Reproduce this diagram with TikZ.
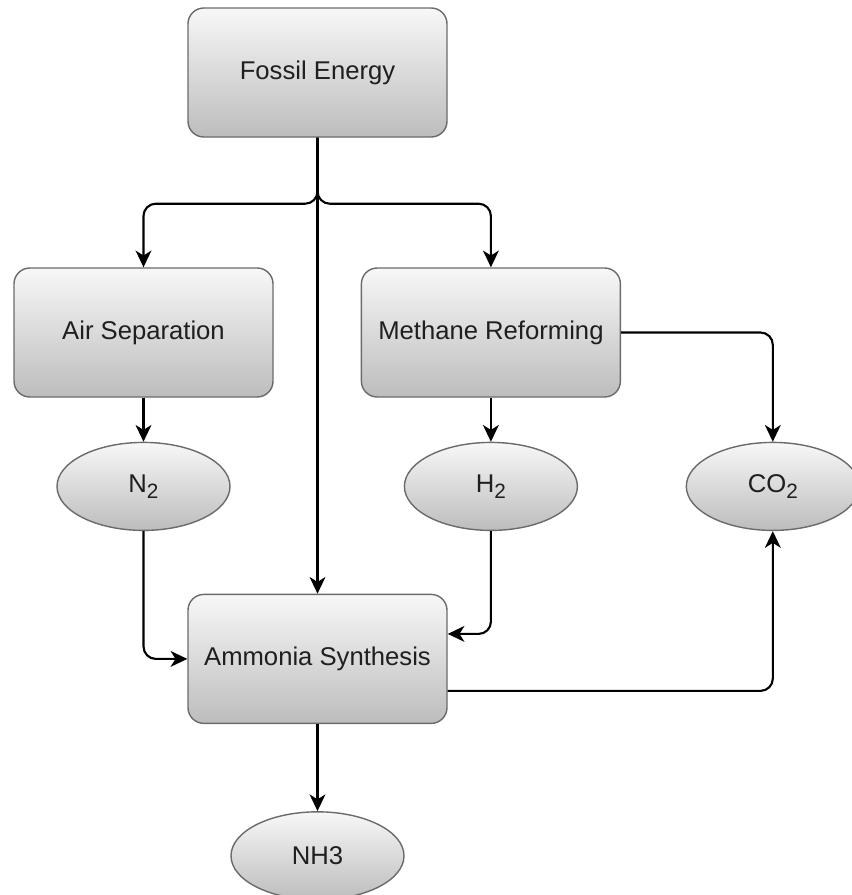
\documentclass[tikz,border=0pt]{standalone}
\usepackage{fontspec}
\setmainfont{Liberation Sans}
\usetikzlibrary{positioning, arrows.meta, shapes.geometric, calc}

% lowered index as used for the gas formulas
\newcommand{\gasidx}[1]{\raisebox{-3.2pt}{\fontsize{11.8}{12}\selectfont #1}}

\begin{document}
\begin{tikzpicture}[->, >={Stealth[length=9.5pt, width=9pt, inset=2.8pt]}, line width=1.2pt, rounded corners=7pt,
    stage/.style={rectangle, rounded corners=9pt, draw=black!58, line width=0.8pt,
      top color=black!3, bottom color=black!26, text=black!88,
      minimum width=5.18cm, minimum height=2.58cm, font=\fontsize{14.6}{17}\selectfont},
    product/.style={ellipse, draw=black!58, line width=0.8pt, inner sep=0pt,
      top color=black!3, bottom color=black!26, text=black!88,
      minimum width=3.46cm, minimum height=1.76cm, font=\fontsize{14.6}{17}\selectfont}]
      \useasboundingbox (0,0) rectangle (17.02,-17.9);

      \node[stage] (fossil) at (6.35,-1.45) {Fossil Energy};
      \node[stage] (airsep) at (2.87,-6.65) {Air Separation};
      \node[stage] (reform) [right=1.74cm of airsep] {Methane Reforming};
      \node[product] (n2) [below=0.88cm of airsep] {N\gasidx{2}};
      \node[product] (h2) [below=0.88cm of reform] {H\gasidx{2}};
      \node[product] (co2) [right=2.15cm of h2] {CO\gasidx{2}};
      \node[stage] (ammonia) [below=9.12cm of fossil] {Ammonia Synthesis};
      \node[product] (nh3) [below=1.74cm of ammonia] {NH3};

      % fork below the fossil energy box
      \coordinate (split) at ($(fossil.south)+(0,-1.32)$);
      \draw (fossil) -- (ammonia);
      \draw (fossil.south) -- (split) -| (airsep.north);
      \draw (fossil.south) -- (split) -| (reform.north);

      \draw (airsep) -- (n2);
      \draw (reform) -- (h2);
      \draw (reform.east) -| (co2.north);
      \draw (n2.south) |- (ammonia.west);
      \draw (h2.south) |- ($(ammonia.east)+(0,0.5)$);
      \draw ($(ammonia.east)+(0,-0.64)$) -| (co2.south);
      \draw (ammonia) -- (nh3);
    \end{tikzpicture}
\end{document}
